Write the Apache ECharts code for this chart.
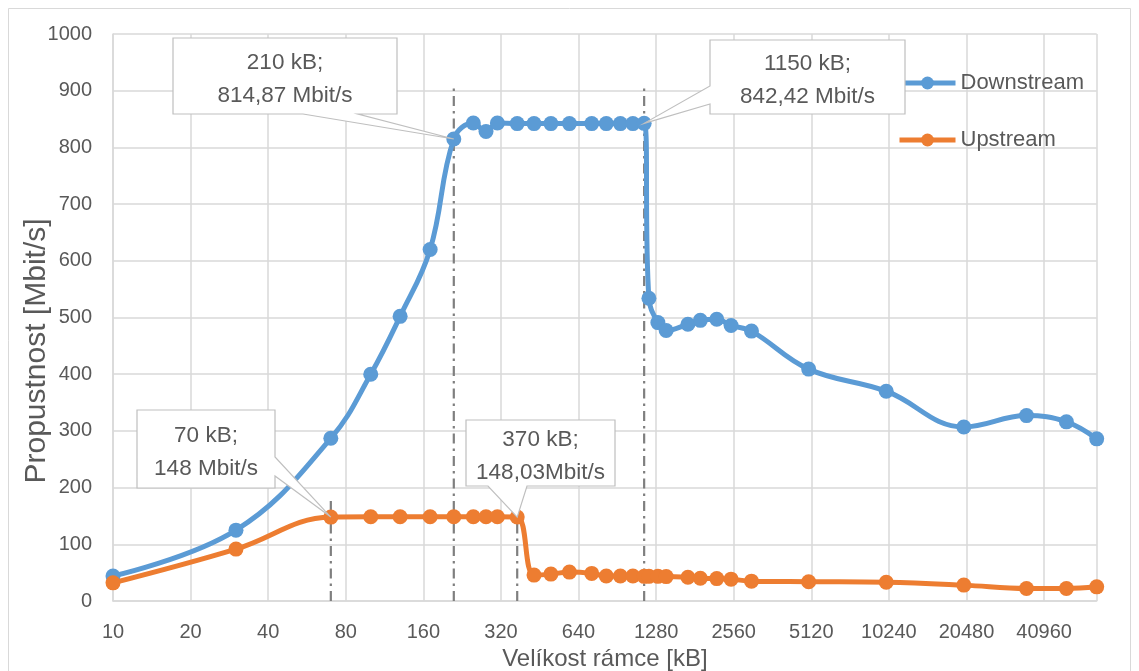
<!DOCTYPE html>
<html><head><meta charset="utf-8">
<script src="https://cdn.jsdelivr.net/npm/echarts@6/dist/echarts.min.js"></script>
<style>html,body{margin:0;padding:0;background:#fff}#c{width:1139px;height:671px}</style>
</head><body><div id="c"></div>
<script>
// ---- data ----
const frameSizesKB = [10,30,70,100,130,170,210,250,280,310,370,430,500,590,720,820,930,1040,1150,1200,1300,1400,1700,1900,2200,2500,3000,5000,10000,20000,35000,50000,65536];
const downstream = [44,125,287,400,502,620,814.87,843,828,843,842,842,842,842,842,842,842,842,842.42,534,491,477,488,495,497,486,476,409,370,307,327,316,286];
const upstream   = [32,91.5,148,148.5,148.5,148.5,148.5,148.5,148.5,148.5,148.03,45.7,47.4,51,48.7,44,44,44,43.5,43.5,43.5,43,42,40,39.5,38.5,35,34,33,28,22,22,25];
const xTickLabels = ['10','20','40','80','160','320','640','1280','2560','5120','10240','20480','40960'];
const xMinKB = 10, xMaxKB = 65536;
const yMin = 0, yMax = 1000, yStep = 100;
const guideKB  = [70, 210, 370, 1150];
const guideTop = [185, 910, 175, 908];
const annotKB     = [70, 210, 370, 1150];
const annotSeries = ['Upstream','Downstream','Upstream','Downstream'];
const annotText   = ['70 kB;\n148 Mbit/s','210 kB;\n814,87 Mbit/s','370 kB;\n148,03Mbit/s','1150 kB;\n842,42 Mbit/s'];
const xTitle = 'Velíkost rámce [kB]';
const yTitle = 'Propustnost [Mbit/s]';

// ---- helpers ----
const tx = v => Math.log2(v / xMinKB);
const FONT = "'Liberation Sans', Arial, sans-serif";
const TXT = '#595959';
const BLUE = '#5B9BD5', ORANGE = '#ED7D31';

const chart = echarts.init(document.getElementById('c'), null, {renderer:'canvas'});
const mk = arr => frameSizesKB.map((k,i) => [tx(k), arr[i]]);

const series = [
  {name:'Downstream', type:'line', data: mk(downstream), smooth:0.4,
   symbol:'circle', symbolSize:15, lineStyle:{color:BLUE, width:5}, itemStyle:{color:BLUE}, z:4},
  {name:'Upstream', type:'line', data: mk(upstream), smooth:0.4,
   symbol:'circle', symbolSize:15, lineStyle:{color:ORANGE, width:5}, itemStyle:{color:ORANGE}, z:5}
];
guideKB.forEach((k,i) => series.push({
  type:'line', data:[[tx(k),0],[tx(k),guideTop[i]]], symbol:'none', silent:true, z:3,
  lineStyle:{color:'#7f7f7f', width:2.2, type:[10,5,2.5,5]}
}));

chart.setOption({
  animation:false,
  backgroundColor:'#fff',
  textStyle:{fontFamily:FONT},
  grid:{left:113, right:42.3, top:34, bottom:70, containLabel:false, outerBoundsMode:'none'},
  legend:{
    data:['Downstream','Upstream'], orient:'vertical', left:892, top:67,
    itemWidth:56, itemHeight:16, itemGap:35,
    lineStyle:{width:5},
    textStyle:{color:TXT, fontSize:22, fontFamily:FONT}
  },
  xAxis:{
    type:'value', min:0, max:tx(xMaxKB), interval:1,
    name:xTitle, nameLocation:'middle', nameGap:46,
    nameTextStyle:{color:TXT, fontSize:24, fontFamily:FONT},
    axisLine:{show:true, lineStyle:{color:'#d9d9d9', width:1.5}},
    axisTick:{show:false},
    splitLine:{show:true, lineStyle:{color:'#d9d9d9', width:1.5}},
    axisLabel:{color:TXT, fontSize:20, fontFamily:FONT, margin:21, showMaxLabel:false,
      formatter: v => { const r = Math.round(v); return (Math.abs(v-r) < 1e-6 && xTickLabels[r]) ? xTickLabels[r] : ''; }}
  },
  yAxis:{
    type:'value', min:yMin, max:yMax, interval:yStep,
    axisLine:{show:true, lineStyle:{color:'#d9d9d9', width:1.5}},
    axisTick:{show:false},
    splitLine:{show:true, lineStyle:{color:'#d9d9d9', width:1.5}},
    axisLabel:{color:TXT, fontSize:20, fontFamily:FONT, margin:21, formatter: v => String(v)}
  },
  series: series
});

// ---- callouts (box layout in pixels, tips from data through the axes) ----
const boxes = [
  {box:[137,410,275,488], side:'right',  base:[457,476]},
  {box:[173,38,397,114],  side:'bottom', base:[303,358]},
  {box:[466,420,615,486], side:'bottom', base:[488,527]},
  {box:[710,40,905,114],  side:'left',   base:[86,104]}
];
function calloutPoints(b, tip){
  const [x0,y0,x1,y1] = b.box;
  if (b.side==='bottom') return [[x0,y0],[x1,y0],[x1,y1],[b.base[1],y1],tip,[b.base[0],y1],[x0,y1]];
  if (b.side==='left')   return [[x0,y0],[x1,y0],[x1,y1],[x0,y1],[x0,b.base[1]],tip,[x0,b.base[0]]];
  return [[x0,y0],[x1,y0],[x1,b.base[0]],tip,[x1,b.base[1]],[x1,y1],[x0,y1]];
}
const graphics = [];
annotKB.forEach((k,i) => {
  const arr = annotSeries[i]==='Upstream' ? upstream : downstream;
  const idx = frameSizesKB.indexOf(k);
  const tip = chart.convertToPixel({gridIndex:0}, [tx(k), arr[idx]]);
  const b = boxes[i];
  graphics.push({type:'polygon', z:100, shape:{points:calloutPoints(b, tip)},
    style:{fill:'#fff', stroke:'#bfbfbf', lineWidth:1.2}});
  graphics.push({type:'text', z:101, x:(b.box[0]+b.box[2])/2, y:(b.box[1]+b.box[3])/2 + 3,
    style:{text:annotText[i], fill:TXT, font:'22.5px ' + FONT, align:'center', verticalAlign:'middle', lineHeight:33}});
});
// y-axis title
graphics.push({type:'text', z:10, x:37, y:351, rotation:Math.PI/2,
  style:{text:yTitle, fill:TXT, font:'30px ' + FONT, align:'center', verticalAlign:'middle'}});
graphics.push({type:'rect', z:0, shape:{x:8.5, y:8.5, width:1122, height:700},
  style:{fill:'none', stroke:'#d9d9d9', lineWidth:1}});
chart.setOption({graphic:graphics});
</script>
</body></html>
